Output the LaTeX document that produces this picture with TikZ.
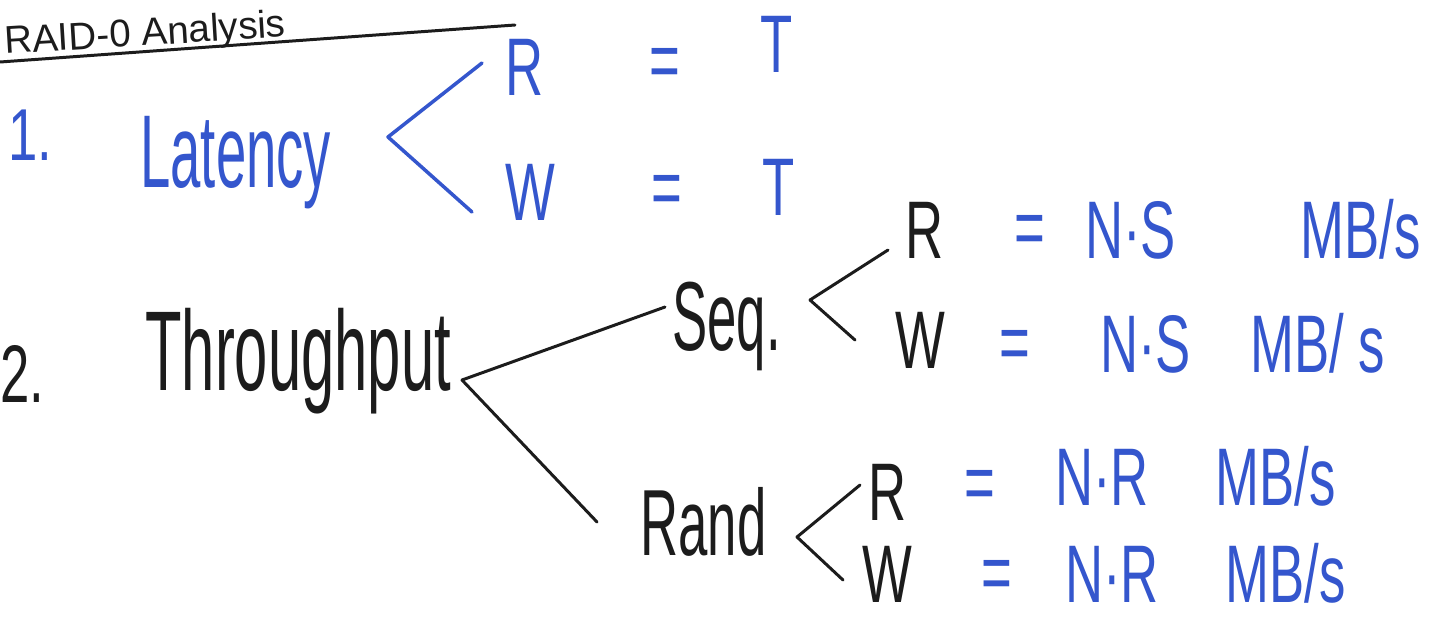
\documentclass[tikz,border=0pt]{standalone}
\usepackage{fontspec}
\setmainfont{Liberation Sans}
\usepackage{xcolor}
\definecolor{penblue}{RGB}{52,86,205}
\definecolor{penblack}{RGB}{28,28,28}

\begin{document}
\begin{tikzpicture}[
        ink/.style={font=\fontsize{30}{34}\selectfont, inner sep=0pt, anchor=base west, yscale=1.55, transform shape},
        headink/.style={font=\fontsize{34}{38}\selectfont, inner sep=0pt, anchor=base west, yscale=1.9, transform shape},
        blueink/.style={ink, text=penblue},
        blackink/.style={ink, text=penblack},
        bluepen/.style={draw=penblue, line width=2pt, line cap=round, line join=round},
        blackpen/.style={draw=penblack, line width=1.7pt, line cap=round, line join=round}]
        \useasboundingbox (0,0) rectangle (29,-12.46);
        \fill[white] (0,0) rectangle (29,-12.46);

        % title above its underline
        \node[font=\fontsize{22}{26}\selectfont, text=penblack, inner sep=0pt, anchor=base west, rotate=3.5] (title) at (0.1,-1.08) {RAID-0 Analysis};
        \coordinate (ulA) at (0,-1.24);
        \coordinate (ulB) at (10.3,-0.5);
        \draw[blackpen] (ulA) -- (ulB);

        % 1. latency
        \node[blueink, yscale=0.9] (num1) at (0.16,-3.2) {1.};
        \node[headink, text=penblue, font=\fontsize{31}{36}\selectfont] (lat) at (2.8,-3.75) {Latency};
        \coordinate (latV) at (7.76,-2.74);
        \node[blueink] (latR) at (10.1,-1.9) {R};
        \node[blueink, anchor=center] (latReq) at (13.3,-1.36) {=};
        \node[blueink] (latRval) at (15.2,-1.44) {T};
        \node[blueink] (latW) at (10.1,-4.4) {W};
        \node[blueink, anchor=center] (latWeq) at (13.34,-3.9) {=};
        \node[blueink] (latWval) at (15.24,-4.3) {T};
        \draw[bluepen] ([shift={(-0.46,0.64)}]latR.base west) -- (latV) -- ([shift={(-0.66,0.16)}]latW.base west);

        % 2. throughput
        \node[blackink] (num2) at (0,-8.05) {2.};
        \node[headink, text=penblack] (thr) at (2.9,-7.8) {Throughput};
        \coordinate (fork) at (9.24,-7.6);
        \node[blackink, yscale=1.2] (seq) at (13.44,-7) {Seq.};
        \node[blackink, yscale=1.15] (rand) at (12.8,-11.1) {Rand};
        \draw[blackpen] (fork) -- ([shift={(-0.14,0.86)}]seq.base west);
        \draw[blackpen] (fork) -- ([shift={(-0.86,0.66)}]rand.base west);

        % sequential
        \coordinate (seqV) at (16.2,-6);
        \node[blackink] (seqR) at (18.1,-5.16) {R};
        \node[blackink] (seqW) at (17.9,-7.36) {W};
        \draw[blackpen] ([shift={(-0.34,0.16)}]seqR.base west) -- (seqV) -- ([shift={(-0.8,0.56)}]seqW.base west);
        \node[blueink, anchor=center] (seqReq) at (20.6,-4.7) {=};
        \node[blueink] (seqRval) at (21.7,-5.16) {N·S};
        \node[blueink] (seqRunit) at (26,-5.16) {MB/s};
        \node[blueink, anchor=center] (seqWeq) at (20.3,-7) {=};
        \node[blueink] (seqWval) at (22,-7.44) {N·S};
        \node[blueink] (seqWunit) at (25,-7.44) {MB/ s};

        % random
        \coordinate (randV) at (15.94,-10.74);
        \node[blackink] (randR) at (17.36,-10.4) {R};
        \node[blackink] (randW) at (17.24,-12.05) {W};
        \draw[blackpen] ([shift={(-0.16,0.7)}]randR.base west) -- (randV) -- ([shift={(-0.38,0.45)}]randW.base west);
        \node[blueink, anchor=center] (randReq) at (19.6,-9.8) {=};
        \node[blueink] (randRval) at (21.1,-10.1) {N·R};
        \node[blueink] (randRunit) at (24.3,-10.1) {MB/s};
        \node[blueink, anchor=center] (randWeq) at (19.94,-11.6) {=};
        \node[blueink] (randWval) at (21.3,-12.05) {N·R};
        \node[blueink] (randWunit) at (24.5,-12.05) {MB/s};
\end{tikzpicture}
\end{document}
